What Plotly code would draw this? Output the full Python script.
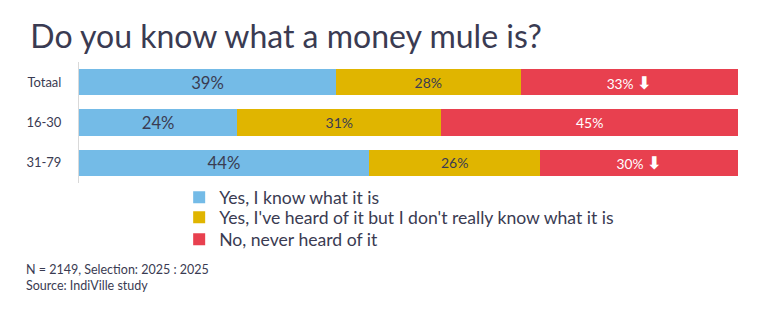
import plotly.graph_objects as go

categories = ["Totaal", "16-30", "31-79"]
series_names = ["Yes, I know what it is",
                "Yes, I've heard of it but I don't really know what it is",
                "No, never heard of it"]
know = [39, 24, 44]
heard = [28, 31, 26]
never = [33, 45, 30]
never_marks = ["⬇", "", "⬇"]

colors = ["#74BBE7", "#E0B500", "#E8404F"]
dark = "#3a3b52"
FONT = "Lato, 'Open Sans', sans-serif"


def red_label(v, m):
    if m:
        return f"{v}% <span style='font-size:18px;font-family:DejaVu Sans'><b>{m}</b></span>"
    return f"{v}%"


fig = go.Figure()
fig.add_trace(go.Bar(y=categories, x=know, orientation="h", name=series_names[0],
                     legend="legend",
                     marker=dict(color=colors[0], line=dict(width=0)),
                     text=[f"{v}%" for v in know], textposition="inside",
                     insidetextanchor="middle",
                     textfont=dict(size=17, color=dark, family=FONT)))
fig.add_trace(go.Bar(y=categories, x=heard, orientation="h", name=series_names[1],
                     legend="legend2",
                     marker=dict(color=colors[1], line=dict(width=0)),
                     text=[f"{v}%" for v in heard], textposition="inside",
                     insidetextanchor="middle",
                     textfont=dict(size=14, color=dark, family=FONT)))
fig.add_trace(go.Bar(y=categories, x=never, orientation="h", name=series_names[2],
                     legend="legend3",
                     marker=dict(color=colors[2], line=dict(width=0)),
                     text=[red_label(v, m) for v, m in zip(never, never_marks)],
                     textposition="inside", insidetextanchor="middle",
                     textfont=dict(size=14, color="white", family=FONT)))

leg_common = dict(orientation="v", x=0.152, xanchor="left", yanchor="middle",
                  font=dict(size=17.6, color=dark, family=FONT),
                  itemwidth=30, bgcolor="rgba(0,0,0,0)")

fig.update_layout(
    width=759, height=328,
    barmode="stack", bargap=0.34,
    margin=dict(l=79, r=21, t=62, b=144.5),
    plot_bgcolor="white", paper_bgcolor="white",
    font=dict(family=FONT, color=dark),
    showlegend=True,
    hovermode=False,
    legend=dict(leg_common, y=-0.119),
    legend2=dict(leg_common, y=-0.284),
    legend3=dict(leg_common, y=-0.465),
    title=dict(text="Do you know what a money mule is?", x=0.04, xanchor="left",
               y=0.887, yanchor="middle",
               font=dict(size=32, color=dark, family=FONT)),
)
fig.update_xaxes(range=[0, 100], visible=False, fixedrange=True)
fig.update_yaxes(categoryorder="array", categoryarray=categories, autorange="reversed",
                 showline=True, linecolor="#d9d9d9", linewidth=1,
                 ticks="", ticklabelstandoff=14, showgrid=False,
                 tickfont=dict(size=13, color=dark, family=FONT))

fig.add_annotation(text="N = 2149, Selection: 2025 : 2025<br>Source: IndiVille study",
                   xref="paper", yref="paper", x=-0.084, y=-0.64,
                   xanchor="left", yanchor="top", align="left", showarrow=False,
                   font=dict(size=12.5, color=dark, family=FONT))

fig.write_html("out.html")
